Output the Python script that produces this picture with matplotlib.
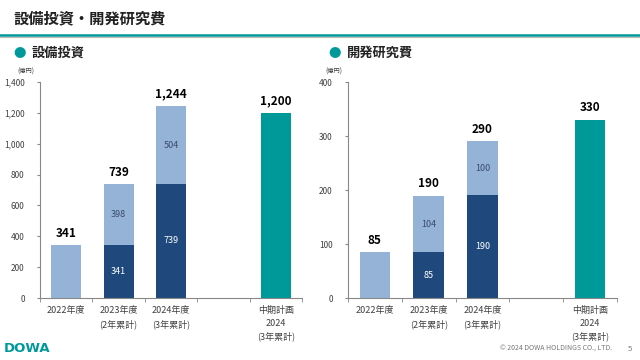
import matplotlib.pyplot as plt

plt.rcParams['font.family'] = ['Noto Sans CJK JP', 'DejaVu Sans']

# data
categories = ["2022年度", "2023年度\n(2年累計)", "2024年度\n(3年累計)", "", "中期計画\n2024\n(3年累計)"]
capex_base = [0, 341, 739]
capex_add = [341, 398, 504]
capex_total = [341, 739, 1244]
capex_plan = 1200
rd_base = [0, 85, 190]
rd_add = [85, 104, 100]
rd_total = [85, 190, 290]
rd_plan = 330

light = "#95B3D7"
dark = "#1F497D"
teal = "#00999A"
grey = "#404040"

W, H = 640, 360
fig = plt.figure(figsize=(6.4, 3.6), dpi=100)


def px_axes(x0, y0, x1, y1):
    return fig.add_axes([x0 / W, 1 - y1 / H, (x1 - x0) / W, (y1 - y0) / H])


def draw_panel(ax, base, add, total, plan, ymax, step):
    ax.set_xlim(-0.5, 4.5)
    ax.set_ylim(0, ymax)
    xs = [0, 1, 2]
    bw = 0.57
    ax.bar(xs, base, width=bw, color=dark, zorder=2)
    ax.bar(xs, add, bottom=base, width=bw, color=light, zorder=2)
    ax.bar([4], [plan], width=bw, color=teal, zorder=2)
    for x, b, a, t in zip(xs, base, add, total):
        ax.text(x, t + ymax * 0.025, f"{t:,}", ha="center", va="bottom",
                fontsize=8.5, fontweight="bold", color="black")
        if b > 0:
            ax.text(x, b / 2, f"{b:,}", ha="center", va="center", fontsize=6.5, color="white")
            ax.text(x, b + a / 2, f"{a:,}", ha="center", va="center", fontsize=6.5, color="#3A4A6B")
    ax.text(4, plan + ymax * 0.025, f"{plan:,}", ha="center", va="bottom",
            fontsize=8.5, fontweight="bold", color="black")

    ax.set_yticks(range(0, ymax + 1, step))
    ax.set_yticklabels([f"{v:,}" for v in range(0, ymax + 1, step)], fontsize=6, color=grey)
    ax.set_xticks(range(5))
    ax.set_xticklabels(categories, fontsize=6.5, color=grey, linespacing=1.5, va="top")
    ax.set_xticks([i - 0.5 for i in range(6)], minor=True)
    ax.tick_params(axis="x", which="major", length=0, pad=6)
    ax.tick_params(axis="x", which="minor", length=3, color="#888888", direction="out")
    ax.tick_params(axis="y", length=2, color="#888888", pad=9)
    for s in ["top", "right"]:
        ax.spines[s].set_visible(False)
    for s in ["left", "bottom"]:
        ax.spines[s].set_color("#888888")
        ax.spines[s].set_linewidth(0.8)
    ax.text(-0.02, 1.03, "(億円)", transform=ax.transAxes, ha="right", va="bottom",
            fontsize=4.5, color=grey)


ax1 = px_axes(40, 82, 302, 298)
draw_panel(ax1, capex_base, capex_add, capex_total, capex_plan, 1400, 200)
ax2 = px_axes(348, 82, 617, 298)
draw_panel(ax2, rd_base, rd_add, rd_total, rd_plan, 400, 100)

# header
fig.text(14 / W, 1 - 18 / H, "設備投資・開発研究費", fontsize=11, fontweight="bold",
         va="center", ha="left", color="#222222")
fig.add_artist(plt.Line2D([0, 1], [1 - 35 / H, 1 - 35 / H], color=teal, lw=1.8))
fig.add_artist(plt.Line2D([0, 1], [1 - 37 / H, 1 - 37 / H], color="#BBBBBB", lw=0.8))

for x0, label in [(20, "設備投資"), (335, "開発研究費")]:
    fig.text(x0 / W, 1 - 53 / H, "●", fontsize=9, color=teal, va="center", ha="center")
    fig.text((x0 + 12) / W, 1 - 53 / H, label, fontsize=9.5, fontweight="bold",
             va="center", ha="left", color="#222222")

# footer
fig.text(4 / W, 1 - 349 / H, "DOWA", fontsize=9.5, fontweight="bold", color=teal,
         va="center", ha="left", family="DejaVu Sans")
fig.text(612 / W, 1 - 349 / H, "© 2024 DOWA HOLDINGS CO., LTD.", fontsize=5,
         color="#777777", va="center", ha="right")
fig.text(632 / W, 1 - 349 / H, "5", fontsize=5.5, color="#777777", va="center", ha="right")

fig.savefig("out.png", dpi=100)
